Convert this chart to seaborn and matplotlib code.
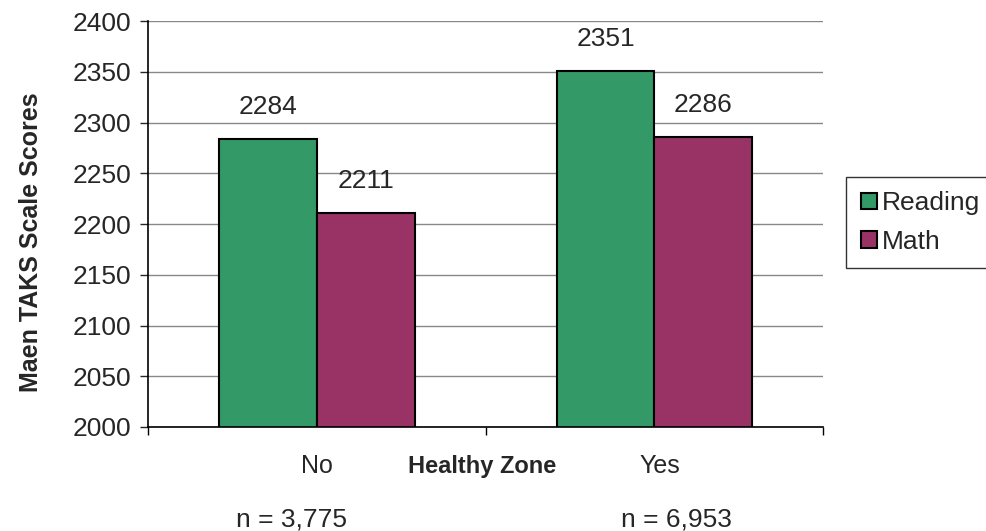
import pandas as pd
import seaborn as sns
import matplotlib.pyplot as plt

zones = ["No", "Yes"]
reading = [2284, 2351]
math = [2211, 2286]
n_counts = ["n = 3,775", "n = 6,953"]

df = pd.DataFrame({
    "zone": zones * 2,
    "subject": ["Reading"] * 2 + ["Math"] * 2,
    "score": reading + math,
})

sns.set_style("white")
plt.rcParams['font.family'] = ['Liberation Sans', 'DejaVu Sans']

fig = plt.figure(figsize=(9.86, 5.31), dpi=100)
ax = fig.add_axes([0.150, 0.196, 0.685, 0.764])

sns.barplot(data=df, x="zone", y="score", hue="subject", order=zones,
            hue_order=["Reading", "Math"],
            palette=["#339966", "#993366"], width=0.58,
            edgecolor="black", linewidth=1.5, saturation=1, ax=ax)

ax.set_ylim(2000, 2400)
ax.set_xlim(-0.5, 1.5)
ax.set_yticks(range(2000, 2401, 50))
ax.yaxis.grid(True, color="#888888", linewidth=1)
ax.set_axisbelow(True)

for s in ["top", "right"]:
    ax.spines[s].set_visible(False)
for s in ["left", "bottom"]:
    ax.spines[s].set_color("black")
    ax.spines[s].set_linewidth(1.2)

# value labels above bars
for cont in ax.containers:
    ax.bar_label(cont, fmt="%d", padding=14, fontsize=19)

# excel-style ticks between categories
ax.set_xticks([-0.5, 0.5, 1.5])
ax.set_xticklabels([])
ax.tick_params(axis="x", direction="out", length=6, width=1, colors="black", bottom=True)
ax.tick_params(axis="y", direction="out", length=6, width=1, left=True, labelsize=19, pad=6)

xt = ax.get_xaxis_transform()
for i, z in enumerate(zones):
    ax.text(i + (0.015 if i else 0), -0.096, z, transform=xt,
            ha="center", va="center", fontsize=18)
ax.text(-0.074, -0.229, n_counts[0], transform=xt, ha="center", va="center", fontsize=19)
ax.text(1.065, -0.229, n_counts[1], transform=xt, ha="center", va="center", fontsize=19)
ax.text(0.49, -0.098, "Healthy Zone", transform=xt,
        ha="center", va="center", fontsize=17, fontweight="bold")

ax.set_xlabel("")
ax.set_ylabel("Maen TAKS Scale Scores", fontsize=18, fontweight="bold")
ax.yaxis.set_label_coords(-0.155, 0.455)

ax.legend(loc="center left", bbox_to_anchor=(1.034, 0.504), frameon=True,
          fancybox=False, edgecolor="black", fontsize=19, handlelength=0.6,
          handleheight=0.6, handletextpad=0.2, labelspacing=0.55, borderpad=0.55,
          borderaxespad=0)

plt.savefig("out.png", dpi=100)
